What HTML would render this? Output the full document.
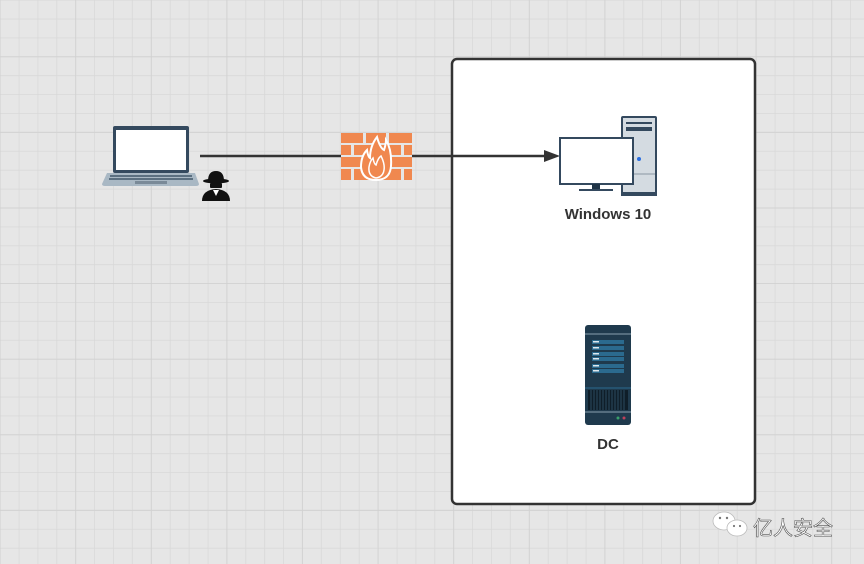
<!DOCTYPE html>
<html><head><meta charset="utf-8"><style>
html,body{margin:0;padding:0;width:864px;height:564px;overflow:hidden;background:#e6e6e6}
</style></head><body>
<svg width="864" height="564" xmlns="http://www.w3.org/2000/svg">
<defs>
<pattern id="minor" width="18.9" height="18.9" patternUnits="userSpaceOnUse" x="0.5" y="0.5">
<path d="M18.9 0V18.9H0" fill="none" stroke="#d8d8d8" stroke-width="1.5"/>
</pattern>
<pattern id="major" width="75.6" height="75.6" patternUnits="userSpaceOnUse" x="0.5" y="-18.4">
<path d="M75.6 0V75.6H0" fill="none" stroke="#d0d0d0" stroke-width="1.5"/>
</pattern>
</defs>
<rect width="864" height="564" fill="#e6e6e6"/>
<rect width="864" height="564" fill="url(#minor)"/>
<rect width="864" height="564" fill="url(#major)"/>

<rect x="452" y="59" width="303" height="445" rx="5" fill="#fff" stroke="#333" stroke-width="2.5"/>

<line x1="200" y1="156" x2="548" y2="156" stroke="#333" stroke-width="2.5"/>
<polygon points="560,156 544,150 544,162" fill="#333"/>

<!-- laptop -->
<rect x="113" y="126" width="76" height="47" rx="2" fill="#34495e"/>
<rect x="116" y="130" width="70" height="40" fill="#fff"/>
<path d="M107 173H195L199 184Q199 186 196 186H105Q102 186 102 184Z" fill="#a9b8c4"/>
<g fill="#5b6f80">
<rect x="110" y="175" width="82" height="2"/>
<rect x="109" y="178" width="84" height="2"/>
</g>
<rect x="135" y="181" width="32" height="3" fill="#7a8a98"/>

<!-- hacker -->
<g fill="#111">
<ellipse cx="216" cy="181" rx="13" ry="2.5"/>
<path d="M208 181Q208 171 216 171Q224 171 224 181Z"/>
<rect x="210" y="183" width="12" height="5" rx="1"/>
<path d="M202 201Q202 190 216 189Q230 190 230 201Z"/>
</g>
<polygon points="213,190 219,190 216,196" fill="#fff"/>

<!-- firewall (above line) -->
<rect x="341" y="133" width="71" height="47" fill="#e6e6e6"/>
<g fill="#f0884f">
<rect x="341" y="133" width="22" height="10"/><rect x="366" y="133" width="20" height="10"/><rect x="389" y="133" width="23" height="10"/>
<rect x="341" y="145" width="10" height="10"/><rect x="354" y="145" width="22" height="10"/><rect x="379" y="145" width="22" height="10"/><rect x="404" y="145" width="8" height="10"/>
<rect x="341" y="157" width="22" height="10"/><rect x="366" y="157" width="20" height="10"/><rect x="389" y="157" width="23" height="10"/>
<rect x="341" y="169" width="10" height="11"/><rect x="354" y="169" width="22" height="11"/><rect x="379" y="169" width="22" height="11"/><rect x="404" y="169" width="8" height="11"/>
</g>
<path d="M377 137Q380 148 384 150Q386 144 386 140Q392 150 391 166Q390 180 376 180Q362 180 361 167Q361 156 367 150Q368 157 370 158Q370 146 377 137Z" fill="#f0884f" stroke="#fff" stroke-width="2"/>
<path d="M376 178Q368 176 369 167Q370 161 373 158Q374 164 376 165Q378 158 381 156Q385 164 384 170Q383 177 376 178Z" fill="none" stroke="#fff" stroke-width="1.5"/>

<!-- tower -->
<rect x="621" y="116" width="36" height="80" rx="2" fill="#34495e"/>
<rect x="623" y="118" width="32" height="76" fill="#d4dbe1"/>
<rect x="626" y="122" width="26" height="2" fill="#34495e"/>
<rect x="626" y="127" width="26" height="4" fill="#34495e"/>
<line x1="623" y1="174" x2="655" y2="174" stroke="#8a97a3"/>
<circle cx="639" cy="159" r="2" fill="#2a6ee0"/>
<rect x="621" y="192" width="36" height="4" fill="#34495e"/>
<rect x="560" y="138" width="73" height="46" fill="#fff" stroke="#34495e" stroke-width="2"/>
<rect x="592" y="184" width="8" height="5" fill="#1f3447"/>
<rect x="579" y="189" width="34" height="2" fill="#34495e"/>
<text x="608" y="219" text-anchor="middle" font-family="Liberation Sans, sans-serif" font-weight="bold" font-size="15" fill="#333">Windows 10</text>

<!-- DC server -->
<rect x="585" y="325" width="46" height="100" rx="3" fill="#1f3a4d"/>
<line x1="585" y1="334" x2="631" y2="334" stroke="#8aa0b0"/>
<g fill="#2b6a8e">
<rect x="592" y="340" width="32" height="4"/><rect x="592" y="346" width="32" height="4"/>
<rect x="592" y="352" width="32" height="4"/><rect x="592" y="357" width="32" height="4"/>
<rect x="592" y="364" width="32" height="4"/><rect x="592" y="369" width="32" height="4"/>
</g>
<g fill="#dfe8ee">
<rect x="593" y="341" width="6" height="1.5"/><rect x="593" y="347" width="6" height="1.5"/>
<rect x="593" y="353" width="6" height="1.5"/><rect x="593" y="358" width="6" height="1.5"/>
<rect x="593" y="365" width="6" height="1.5"/><rect x="593" y="370" width="6" height="1.5"/>
</g>
<line x1="585" y1="388" x2="631" y2="388" stroke="#2b6a8e"/>
<rect x="588" y="390" width="40" height="20" fill="#0f1e29"/>
<g stroke="#2b4a5e" stroke-width="1">
<path d="M591 390V410M594 390V410M597 390V410M600 390V410M603 390V410M606 390V410M609 390V410M612 390V410M615 390V410M618 390V410M621 390V410M624 390V410"/>
</g>
<line x1="585" y1="412" x2="631" y2="412" stroke="#8aa0b0"/>
<circle cx="618" cy="418" r="1.5" fill="#3aa06a"/>
<circle cx="624" cy="418" r="1.5" fill="#c0405a"/>
<text x="608" y="449" text-anchor="middle" font-family="Liberation Sans, sans-serif" font-weight="bold" font-size="15" fill="#333">DC</text>

<!-- watermark -->
<g fill="#fff" stroke="#bbb" stroke-width="0.8">
<ellipse cx="724" cy="521" rx="11" ry="9"/>
<ellipse cx="737" cy="528" rx="10" ry="8"/>
</g>
<g fill="#777"><circle cx="720" cy="518" r="1.2"/><circle cx="727" cy="518" r="1.2"/><circle cx="734" cy="526" r="1.1"/><circle cx="740" cy="526" r="1.1"/></g>
<text x="753" y="535" font-family="Liberation Sans, Noto Sans CJK SC, sans-serif" font-size="20" fill="#fff" stroke="#555" stroke-width="0.6">亿人安全</text>
</svg>
</body></html>
